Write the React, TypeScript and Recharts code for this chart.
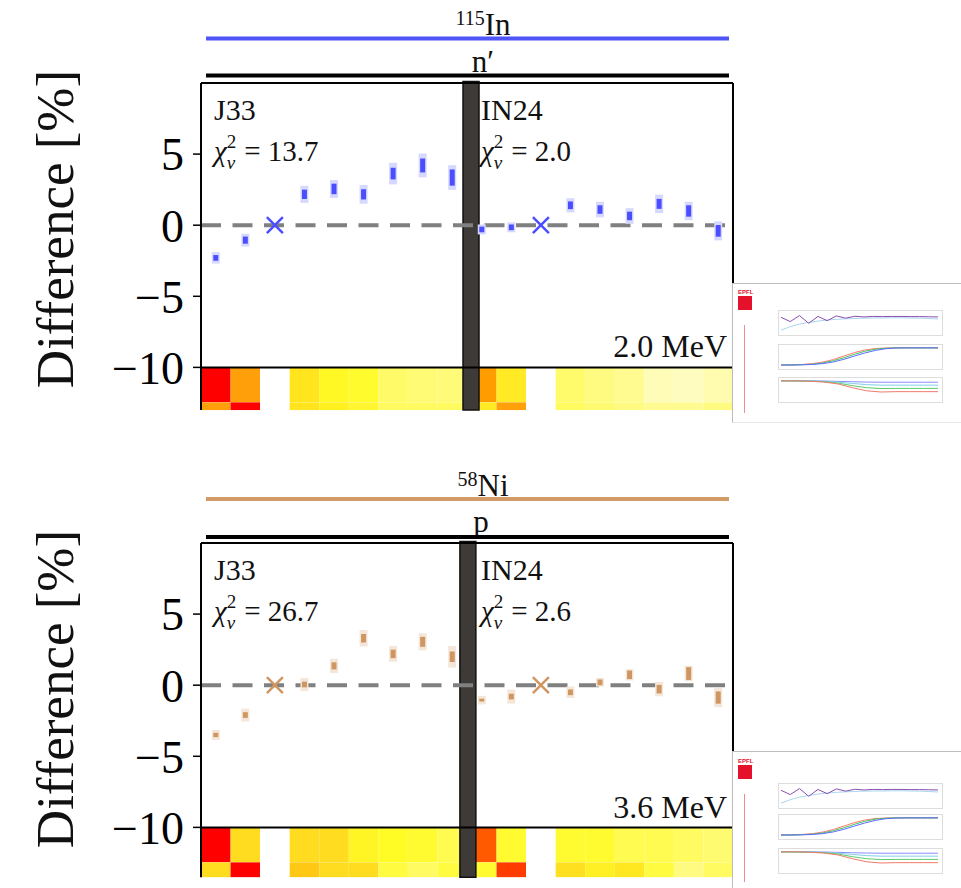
import React from 'react'
import {
  ComposedChart,
  LineChart,
  Line,
  Scatter,
  ErrorBar,
  XAxis,
  YAxis,
  ReferenceArea,
  ReferenceLine,
} from 'recharts'

const FONT = '"Liberation Serif", "Times New Roman", serif'

// 9 J33 slots followed by 9 IN24 slots
const SLOTS = 18
const REF_SLOTS = [2, 11]
const Y_TICKS = [-10, -5, 0, 5]

const IN115_VALUES = [-2.3, -1.05, null, 2.17, 2.55, 2.17, 3.63, 4.2, 3.35, -0.3, -0.15, null, 1.4, 1.1, 0.65, 1.5, 1.0, -0.4]
const IN115_STAT = [0.2, 0.25, null, 0.33, 0.37, 0.36, 0.41, 0.49, 0.57, 0.2, 0.2, null, 0.27, 0.3, 0.3, 0.35, 0.4, 0.41]
const IN115_TOT = [0.4, 0.45, null, 0.6, 0.63, 0.66, 0.76, 0.84, 0.87, 0.35, 0.35, null, 0.5, 0.55, 0.55, 0.65, 0.65, 0.67]

const NI58_VALUES = [-3.5, -2.1, null, 0.05, 1.36, 3.3, 2.2, 3.05, 2.0, -1.05, -0.8, null, -0.5, 0.2, 0.73, -0.28, 0.82, -0.87]
const NI58_STAT = [0.15, 0.2, null, 0.2, 0.25, 0.3, 0.3, 0.35, 0.37, 0.1, 0.2, null, 0.2, 0.2, 0.3, 0.3, 0.45, 0.43]
const NI58_TOT = [0.35, 0.45, null, 0.45, 0.5, 0.58, 0.55, 0.6, 0.76, 0.3, 0.5, null, 0.4, 0.3, 0.4, 0.5, 0.55, 0.67]

const IN115_HEAT_ROW1 = ['#ff0000', '#ffa00a', '#ffffff', '#ffe41e', '#fff825', '#fffb2d', '#fffb68', '#fffb75', '#fffb78',
  '#ff9c00', '#ffea25', '#ffffff', '#fffb6a', '#fffb80', '#fffb90', '#fffcb8', '#fffcc0', '#fffcb0']
const IN115_HEAT_ROW2 = ['#ffa00a', '#ff0000', '#ffffff', '#ffe41e', '#fff020', '#fff530', '#fffa60', '#fffa60', '#fffa60',
  '#ffea25', '#ffa00a', '#ffffff', '#fffb60', '#fffb70', '#fffb80', '#fffb90', '#fffb90', '#fffb80']
const NI58_HEAT_ROW1 = ['#ff0000', '#ffdc20', '#ffffff', '#ffdc20', '#ffdc20', '#fff525', '#fffb25', '#fffb30', '#fffb50',
  '#ff5a00', '#fffb30', '#ffffff', '#fffb30', '#fffb30', '#fffb50', '#fffb50', '#fffb60', '#fffb70']
const NI58_HEAT_ROW2 = ['#ffdc20', '#ff0000', '#ffffff', '#ffc814', '#ffdc20', '#ffdc20', '#fffb40', '#fffb60', '#fffb40',
  '#fffb30', '#ff3c00', '#ffffff', '#ffe020', '#fff025', '#ffe820', '#fffb40', '#fffb80', '#fffb60']

// tiny slide thumbnails on the right
const THUMB_RATIO_A = [0.8, 0.55, 0.9, 0.45, 0.85, 0.6, 0.88, 0.75, 0.86, 0.82, 0.85, 0.84, 0.85, 0.85, 0.84, 0.84, 0.83, 0.82]
const THUMB_RATIO_B = [0.05, 0.25, 0.4, 0.5, 0.58, 0.64, 0.68, 0.71, 0.73, 0.75, 0.76, 0.76, 0.77, 0.77, 0.76, 0.75, 0.73, 0.7]
const THUMB_CUM_A = [0, 0, 0.01, 0.03, 0.08, 0.18, 0.33, 0.52, 0.7, 0.85, 0.95, 0.99, 1, 1, 1, 1]
const THUMB_CUM_B = [0, 0, 0.02, 0.05, 0.12, 0.25, 0.42, 0.62, 0.8, 0.92, 0.98, 1, 1, 1, 1, 1]
const THUMB_CUM_C = [0, 0.01, 0.03, 0.08, 0.17, 0.32, 0.52, 0.72, 0.87, 0.96, 0.99, 1, 1, 1, 1, 1]
const THUMB_FAN_A = [1, 1, 1, 0.99, 0.97, 0.95, 0.93, 0.92, 0.92, 0.92, 0.92, 0.92]
const THUMB_FAN_B = [1, 1, 0.99, 0.97, 0.92, 0.85, 0.78, 0.75, 0.75, 0.75, 0.75, 0.75]
const THUMB_FAN_C = [1, 1, 0.98, 0.95, 0.87, 0.72, 0.6, 0.55, 0.56, 0.56, 0.56, 0.56]
const THUMB_FAN_D = [1, 1, 0.98, 0.93, 0.82, 0.6, 0.42, 0.35, 0.37, 0.37, 0.37, 0.37]

const fmtTick = (v: number) => String(v).replace('-', '\u2212')

function Cross({ cx, cy, color }: { cx?: number; cy?: number; color: string }) {
  if (cx == null || cy == null) return <g />
  const s = 8
  return (
    <g stroke={color} strokeWidth={2.5}>
      <line x1={cx - s} y1={cy - s} x2={cx + s} y2={cy + s} />
      <line x1={cx - s} y1={cy + s} x2={cx + s} y2={cy - s} />
    </g>
  )
}

interface PanelProps {
  top: number
  values: (number | null)[]
  stat: (number | null)[]
  tot: (number | null)[]
  color: string
  light: string
  yMin: number
  heat1: string[]
  heat2: string[]
  sepX: [number, number]
}

function Panel({ top, values, stat, tot, color, light, yMin, heat1, heat2, sepX }: PanelProps) {
  const points = values
    .map((v, i) => ({ x: i + 0.5, y: v, stat: stat[i], tot: tot[i] }))
    .filter((p) => p.y !== null)
  const refs = REF_SLOTS.map((i) => ({ x: i + 0.5, y: 0 }))
  const rowSplit = -12.46
  const plotH = (10 - yMin) * 14.22

  return (
    <div style={{ position: 'absolute', left: 0, top }}>
      <ComposedChart width={961} height={83 + plotH + 4} margin={{ top: 83, right: 228, bottom: 4, left: 91 }}>
        <XAxis type="number" dataKey="x" domain={[0, SLOTS]} hide allowDataOverflow />
        <YAxis
          type="number"
          dataKey="y"
          domain={[yMin, 10]}
          ticks={Y_TICKS}
          width={110}
          allowDataOverflow
          axisLine={false}
          tickSize={8}
          tickMargin={9}
          tickLine={{ stroke: '#000', strokeWidth: 1.5 }}
          tick={{ fontFamily: FONT, fontSize: 46, fill: '#000' }}
          tickFormatter={fmtTick}
        />
        {heat1.map((c, i) => (
          <ReferenceArea key={'a' + i} x1={i} x2={i + 1} y1={rowSplit} y2={-10} fill={c} fillOpacity={1} stroke="none" />
        ))}
        {heat2.map((c, i) => (
          <ReferenceArea key={'b' + i} x1={i} x2={i + 1} y1={yMin} y2={rowSplit} fill={c} fillOpacity={1} stroke="none" />
        ))}
        <ReferenceLine y={0} stroke="#808080" strokeWidth={4} strokeDasharray="20 11.5" />
        <ReferenceLine y={10} stroke="#000" strokeWidth={2} />
        <ReferenceLine y={-10} stroke="#000" strokeWidth={2} />
        <ReferenceLine x={0} stroke="#000" strokeWidth={2} />
        <ReferenceLine x={SLOTS} stroke="#000" strokeWidth={2} />
        <Scatter data={points} dataKey="y" shape={() => <g />} isAnimationActive={false}>
          <ErrorBar dataKey="tot" direction="y" width={0} stroke={light} strokeWidth={8} />
        </Scatter>
        <Scatter data={points} dataKey="y" shape={() => <g />} isAnimationActive={false}>
          <ErrorBar dataKey="stat" direction="y" width={0} stroke={color} strokeWidth={5} />
        </Scatter>
        <Scatter data={refs} dataKey="y" shape={(p: any) => <Cross cx={p.cx} cy={p.cy} color={color} />} isAnimationActive={false} />
        <ReferenceArea
          x1={sepX[0]}
          x2={sepX[1]}
          y1={yMin}
          y2={10.1}
          ifOverflow="visible"
          fill="#3e3a37"
          fillOpacity={1}
          stroke="#111"
          strokeWidth={1.5}
        />
      </ComposedChart>
    </div>
  )
}

function MiniChart({ series, left, top }: { series: { data: number[]; color: string }[]; left: number; top: number }) {
  const rows = series[0].data.map((_, i) => {
    const r: Record<string, number> = { i }
    series.forEach((s, k) => (r['s' + k] = s.data[i]))
    return r
  })
  return (
    <div style={{ position: 'absolute', left, top, width: 163, height: 24, border: '1px solid #dddddd' }}>
      <LineChart width={161} height={22} data={rows} margin={{ top: 2, right: 2, bottom: 2, left: 2 }}>
        <XAxis dataKey="i" hide />
        <YAxis hide domain={[0, 1.05]} />
        {series.map((s, k) => (
          <Line key={k} dataKey={'s' + k} stroke={s.color} strokeWidth={1} dot={false} isAnimationActive={false} />
        ))}
      </LineChart>
    </div>
  )
}

function Thumb({ top, offsets }: { top: number; offsets: number[] }) {
  return (
    <div
      style={{
        position: 'absolute',
        left: 732,
        top,
        width: 229,
        height: 138,
        background: '#fff',
        borderLeft: '1px solid #bdbdbd',
        borderTop: '1px solid #bdbdbd',
        borderBottom: '1px solid #e6e6e6',
        overflow: 'hidden',
      }}
    >
      <div style={{ position: 'absolute', left: 5, top: offsets[0], fontFamily: 'Liberation Sans', fontWeight: 700, fontSize: 6, color: '#e5112a' }}>
        EPFL
      </div>
      <div style={{ position: 'absolute', left: 5, top: offsets[0] + 7, width: 14, height: 14, background: '#e5112a' }} />
      <div style={{ position: 'absolute', left: 11, top: offsets[0] + 36, width: 1, height: 88, background: '#f08a94' }} />
      <MiniChart
        left={45}
        top={offsets[1]}
        series={[
          { data: THUMB_RATIO_B, color: '#a9d6ee' },
          { data: THUMB_RATIO_A, color: '#8a4fb0' },
        ]}
      />
      <MiniChart
        left={45}
        top={offsets[2]}
        series={[
          { data: THUMB_CUM_C, color: '#ff7a6a' },
          { data: THUMB_CUM_B, color: '#46c46a' },
          { data: THUMB_CUM_A, color: '#5a6cff' },
        ]}
      />
      <MiniChart
        left={45}
        top={offsets[3]}
        series={[
          { data: THUMB_FAN_A, color: '#8a8cff' },
          { data: THUMB_FAN_B, color: '#7fd0e8' },
          { data: THUMB_FAN_C, color: '#5acb6a' },
          { data: THUMB_FAN_D, color: '#f07a6a' },
        ]}
      />
    </div>
  )
}

function ChiLabel({ x, y, value }: { x: number; y: number; value: string }) {
  return (
    <text x={x} y={y} fontFamily={FONT} fontSize={29} fill="#111">
      <tspan fontStyle="italic">χ</tspan>
      <tspan fontSize={19} dy={-13}>2</tspan>
      <tspan fontSize={19} fontStyle="italic" dx={-9.5} dy={21}>ν</tspan>
      <tspan dy={-8} dx={9}>= {value}</tspan>
    </text>
  )
}

function Overlay() {
  const txt = { fontFamily: FONT, fill: '#111' }
  return (
    <svg width={961} height={888} style={{ position: 'absolute', left: 0, top: 0, pointerEvents: 'none' }}>
      {/* top panel headers */}
      <text x={483} y={35} textAnchor="middle" fontSize={31} {...txt}>
        <tspan fontSize={20} dy={-10}>115</tspan>
        <tspan dy={10}>In</tspan>
      </text>
      <line x1={206} x2={729} y1={38.5} y2={38.5} stroke="#4f55f7" strokeWidth={4} />
      <text x={483} y={72} textAnchor="middle" fontSize={31} {...txt}>n′</text>
      <line x1={206} x2={729} y1={75.5} y2={75.5} stroke="#000" strokeWidth={4} />
      <text transform="rotate(-90 73 229)" x={73} y={229} textAnchor="middle" fontSize={53} {...txt}>
        Difference [%]
      </text>
      <text x={214} y={120} fontSize={30} {...txt}>J33</text>
      <ChiLabel x={214} y={161} value="13.7" />
      <text x={481} y={120} fontSize={30} {...txt}>IN24</text>
      <ChiLabel x={481} y={161} value="2.0" />
      <text x={727} y={357} textAnchor="end" fontSize={32} {...txt}>2.0 MeV</text>

      {/* bottom panel headers */}
      <text x={483} y={496} textAnchor="middle" fontSize={31} {...txt}>
        <tspan fontSize={20} dy={-10}>58</tspan>
        <tspan dy={10}>Ni</tspan>
      </text>
      <line x1={206} x2={729} y1={499} y2={499} stroke="#d19a66" strokeWidth={4} />
      <text x={481} y={532} textAnchor="middle" fontSize={31} {...txt}>p</text>
      <line x1={206} x2={729} y1={537} y2={537} stroke="#000" strokeWidth={4} />
      <text transform="rotate(-90 73 689)" x={73} y={689} textAnchor="middle" fontSize={53} {...txt}>
        Difference [%]
      </text>
      <text x={214} y={580} fontSize={30} {...txt}>J33</text>
      <ChiLabel x={214} y={621} value="26.7" />
      <text x={481} y={580} fontSize={30} {...txt}>IN24</text>
      <ChiLabel x={481} y={621} value="2.6" />
      <text x={727} y={818} textAnchor="end" fontSize={32} {...txt}>3.6 MeV</text>
    </svg>
  )
}

export default function App() {
  return (
    <div style={{ position: 'absolute', left: 0, top: 0, width: 961, height: 888, background: '#fff', overflow: 'hidden' }}>
      <Panel
        top={0}
        values={IN115_VALUES}
        stat={IN115_STAT}
        tot={IN115_TOT}
        color="#4a4eff"
        light="#d6d8ff"
        yMin={-13}
        heat1={IN115_HEAT_ROW1}
        heat2={IN115_HEAT_ROW2}
        sepX={[8.865, 9.406]}
      />
      <Panel
        top={460}
        values={NI58_VALUES}
        stat={NI58_STAT}
        tot={NI58_TOT}
        color="#cf9661"
        light="#f4e6d8"
        yMin={-13.5}
        heat1={NI58_HEAT_ROW1}
        heat2={NI58_HEAT_ROW2}
        sepX={[8.76, 9.3]}
      />
      <Overlay />
      <Thumb top={283} offsets={[5, 26, 60, 93]} />
      <Thumb top={751} offsets={[6, 31, 62, 96]} />
    </div>
  )
}
